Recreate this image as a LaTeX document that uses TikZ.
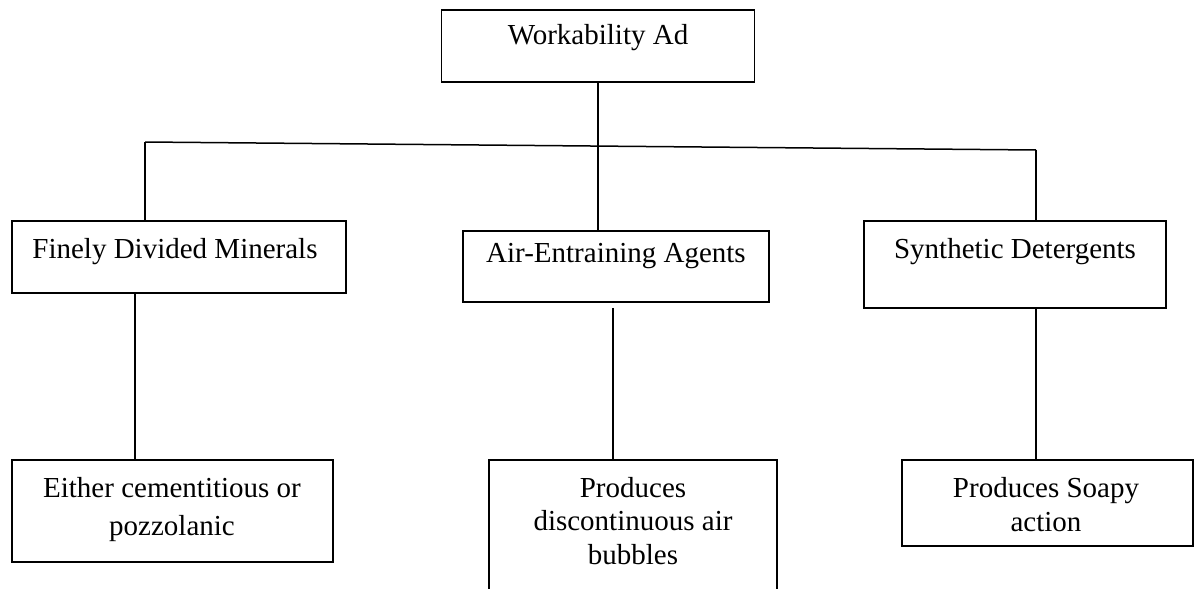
\documentclass[tikz,border=0pt]{standalone}
\usepackage{fontspec}
\setmainfont{Liberation Serif}
\begin{document}
\begin{tikzpicture}[x=1pt,y=-1pt,
  box/.style={draw=black,line width=1.5pt,rectangle,inner sep=0pt},
  txt/.style={anchor=base,inner sep=0pt,font=\fontsize{29}{34}\selectfont},
  conn/.style={draw=black,line width=1.5pt}]
\useasboundingbox (0,0) rectangle (1195,589);
\clip (0,0) rectangle (1195,589);
% boxes
\node[box,minimum width=313pt,minimum height=72pt] (top) at (598,46) {};
\node[box,minimum width=334pt,minimum height=72pt] (fdm) at (179,257) {};
\node[box,minimum width=306pt,minimum height=71pt] (aea) at (616,266.5) {};
\node[box,minimum width=302pt,minimum height=87pt] (sd) at (1015,264.5) {};
\node[box,minimum width=321pt,minimum height=102pt] (ecp) at (172.5,511) {};
\node[box,minimum width=288pt,minimum height=150pt] (pda) at (633,535) {};
\node[box,minimum width=291pt,minimum height=86pt] (psa) at (1047.5,503) {};
% texts
\node[txt] (ttop) at (598,45) {Workability Ad};
\node[txt] (tfdm) at (175,258) {Finely Divided Minerals};
\node[txt] (taea) at (616,262) {Air-Entraining Agents};
\node[txt] (tsd) at (1015,258) {Synthetic Detergents};
\node[txt] (tecp1) at (172,497) {Either cementitious or};
\node[txt] (tecp2) at (172,535) {pozzolanic};
\node[txt] (tpda1) at (633,497) {Produces};
\node[txt] (tpda2) at (633,530) {discontinuous air};
\node[txt] (tpda3) at (633,564) {bubbles};
\node[txt] (tpsa1) at (1046,497) {Produces Soapy};
\node[txt] (tpsa2) at (1046,531) {action};
% connectors
\coordinate (hl) at (145,142);
\coordinate (hr) at (1036,150);
\coordinate (c1) at (135,0);
\coordinate (c2) at (613,0);
\coordinate (c3) at (1036,0);
\draw[conn] (hl) -- (hr);
\draw[conn] (hl) -- (hl |- fdm.north);
\draw[conn] (hr) -- (hr |- sd.north);
\draw[conn] (top.south) -- (top.south |- aea.north);
\draw[conn] (c1 |- fdm.south) -- (c1 |- ecp.north);
\draw[conn,shorten <=5pt] (c2 |- aea.south) -- (c2 |- pda.north);
\draw[conn] (c3 |- sd.south) -- (c3 |- psa.north);
\end{tikzpicture}
\end{document}
